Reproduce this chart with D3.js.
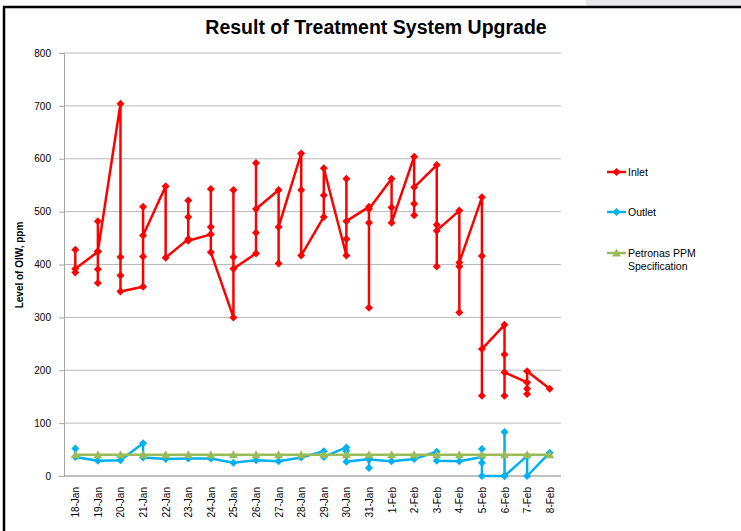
<!DOCTYPE html>
<html><head><meta charset="utf-8">
<script src="https://cdn.jsdelivr.net/npm/d3@7"></script>
<style>body{margin:0;background:#fff;font-family:"Liberation Sans",Arial,sans-serif;}</style>
</head><body>
<svg id="c" width="741" height="531"></svg>
<script>
const dates = ["18-Jan","19-Jan","20-Jan","21-Jan","22-Jan","23-Jan","24-Jan","25-Jan","26-Jan","27-Jan","28-Jan","29-Jan","30-Jan","31-Jan","1-Feb","2-Feb","3-Feb","4-Feb","5-Feb","6-Feb","7-Feb","8-Feb"];
const inletValues = [[428,385,392],[424,482,391,365,425],[704,414,379,349],[358,415,509,455],[548,413],[448,521,490,445],[457,543,471,423],[300,541,414,392],[421,592,460,505],[541,402,471],[610,541,417],[490,531,582],[417,562,448,482],[509,318,479,505],[562,508,479],[604,493,515,546],[588,396,475,464],[502,396,309,404],[527,416,152,240],[286,230,152,196],[177,165,155,198],[165]];
const outletValues = [[52,36],[29],[30],[62,35],[32],[33],[33],[25],[30],[28],[35],[47,36],[54,47,27],[32,15,31],[28],[32],[46,29],[28],[36,51,25,0],[0,83,0],[38,0],[44]];
const specValues = [40,40,40,40,40,40,40,40,40,40,40,40,40,40,40,40,40,40,40,40,40,40];
const yTicks = [0,100,200,300,400,500,600,700,800];
const seriesNames = ["Inlet","Outlet","Petronas PPM Specification"];
const colors = ["#ff0000","#00b0f0","#9bbb59"];

const svg = d3.select("#c");
const L = 64, R = 561, T = 53, B = 476;
const x = d3.scalePoint().domain(dates).range([L, R]).padding(0.5);
const y = d3.scaleLinear().domain([0, 800]).range([B, T]);

// frame
svg.append("rect").attr("x",586).attr("y",0).attr("width",155).attr("height",6).attr("fill","#e8e8ea");
svg.append("line").attr("x1",3).attr("x2",741).attr("y1",7).attr("y2",7).attr("stroke","#000").attr("stroke-width",2.5);
svg.append("line").attr("x1",4).attr("x2",4).attr("y1",6).attr("y2",531).attr("stroke","#000").attr("stroke-width",2.5);

// title
svg.append("text").attr("x",376).attr("y",34).attr("text-anchor","middle")
  .attr("font-size",19.5).attr("font-weight","bold").attr("fill","#000").text("Result of Treatment System Upgrade");

// gridlines
svg.append("g").selectAll("line").data(yTicks).join("line")
  .attr("x1",L).attr("x2",R).attr("y1",d=>y(d)).attr("y2",d=>y(d))
  .attr("stroke","#b9b9b9").attr("stroke-width",1);

// y axis
const ya = svg.append("g").attr("transform",`translate(${L},0)`)
  .call(d3.axisLeft(y).tickValues(yTicks).tickSize(5).tickPadding(8));
ya.select(".domain").attr("stroke","#a6a6a6");
ya.selectAll(".tick line").attr("stroke","#a6a6a6");
ya.selectAll("text").attr("font-size",10).attr("fill","#000").attr("font-family","Liberation Sans, Arial, sans-serif");

// x axis
const xa = svg.append("g").attr("transform",`translate(0,${B})`)
  .call(d3.axisBottom(x).tickSize(0).tickPadding(0));
xa.select(".domain").attr("stroke","#a6a6a6").attr("d",`M${L},0H${R}`);
xa.selectAll("text").attr("font-size",10).attr("fill","#000").attr("font-family","Liberation Sans, Arial, sans-serif")
  .attr("text-anchor","end").attr("dy","0.35em")
  .attr("transform","translate(0,11) rotate(-90)").attr("x",0).attr("y",0);

// y axis title
svg.append("text").attr("transform","translate(23,265) rotate(-90)").attr("text-anchor","middle")
  .attr("font-size",10).attr("font-weight","bold").attr("fill","#000").text("Level of OIW, ppm");

function flatten(arr){ const out=[]; arr.forEach((vs,i)=>vs.forEach(v=>out.push({d:dates[i],v}))); return out; }
const diamond = "M0,-4L4,0L0,4L-4,0Z";
const tri = "M0,-4.5L4.5,3.5L-4.5,3.5Z";
const line = d3.line().x(p=>x(p.d)).y(p=>y(p.v));

const seriesData = [flatten(inletValues), flatten(outletValues), specValues.map((v,i)=>({d:dates[i],v}))];
const shapes = [diamond, diamond, tri];
seriesData.forEach((pts,i)=>{
  const g = svg.append("g");
  g.append("path").attr("d",line(pts)).attr("fill","none").attr("stroke",colors[i]).attr("stroke-width",2.5).attr("stroke-linejoin","round");
  g.selectAll("path.m").data(pts).join("path").attr("class","m").attr("d",shapes[i])
    .attr("transform",p=>`translate(${x(p.d)},${y(p.v)})`).attr("fill",colors[i]);
});

// legend
const legY = [172, 212, 253];
seriesNames.forEach((n,i)=>{
  const g = svg.append("g").attr("transform",`translate(607,${legY[i]})`);
  g.append("line").attr("x1",0).attr("x2",19).attr("stroke",colors[i]).attr("stroke-width",2.5);
  g.append("path").attr("d",shapes[i]).attr("transform","translate(9.5,0)").attr("fill",colors[i]);
  const t = g.append("text").attr("x",21).attr("y",4).attr("font-size",10.5).attr("fill","#000");
  if (i===2){
    t.append("tspan").attr("x",21).text("Petronas PPM");
    t.append("tspan").attr("x",21).attr("dy",13).text("Specification");
  } else t.text(n);
});
</script>
</body></html>
